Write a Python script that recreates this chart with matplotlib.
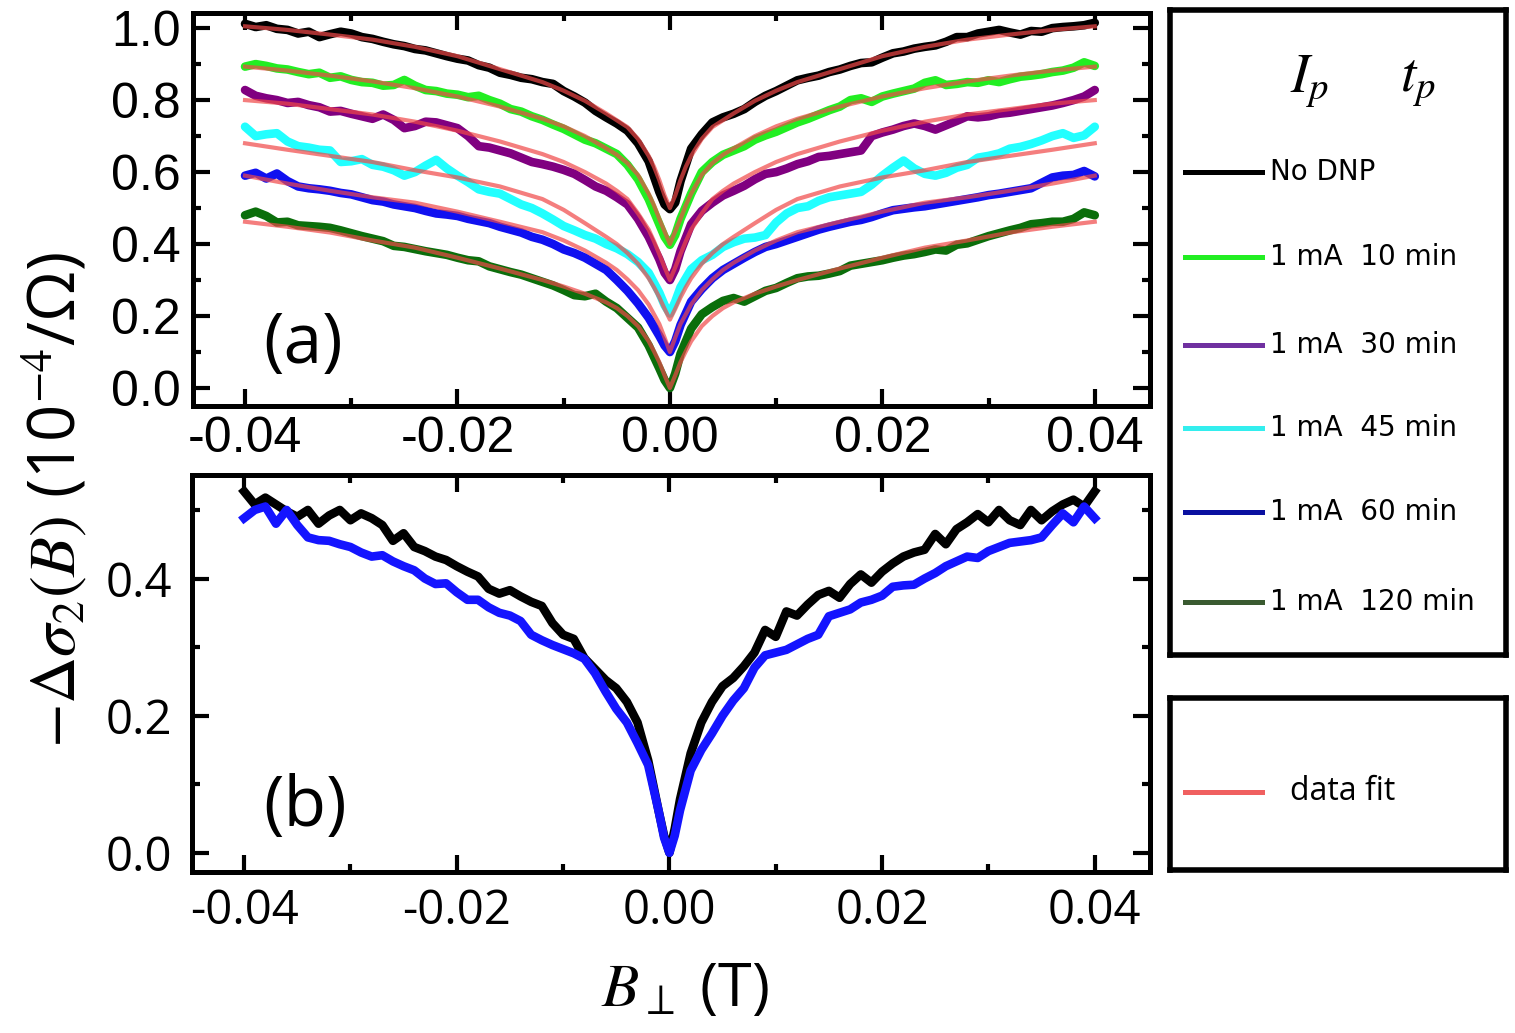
import matplotlib
matplotlib.use("Agg")
import matplotlib.pyplot as plt
from matplotlib.lines import Line2D
from matplotlib.ticker import MultipleLocator, FixedLocator

plt.rcParams['mathtext.fontset'] = 'stix'

# ---------------- data (B in tesla) ----------------
B = [-0.040, -0.039, -0.038, -0.037, -0.036, -0.035, -0.034, -0.033, -0.032, -0.031,
     -0.030, -0.029, -0.028, -0.027, -0.026, -0.025, -0.024, -0.023, -0.022, -0.021,
     -0.020, -0.019, -0.018, -0.017, -0.016, -0.015, -0.014, -0.013, -0.012, -0.011,
     -0.010, -0.009, -0.008, -0.007, -0.006, -0.005, -0.004, -0.003, -0.002, -0.001,
     -0.0005, 0.0, 0.0005,
     0.001, 0.002, 0.003, 0.004, 0.005, 0.006, 0.007, 0.008, 0.009, 0.010,
     0.011, 0.012, 0.013, 0.014, 0.015, 0.016, 0.017, 0.018, 0.019, 0.020,
     0.021, 0.022, 0.023, 0.024, 0.025, 0.026, 0.027, 0.028, 0.029, 0.030,
     0.031, 0.032, 0.033, 0.034, 0.035, 0.036, 0.037, 0.038, 0.039, 0.040]

a_nodnp = [1.012, 1.003, 1.008, 0.998, 0.995, 0.985, 0.990, 0.975, 0.983, 0.990,
           0.985, 0.975, 0.970, 0.962, 0.955, 0.950, 0.942, 0.938, 0.930, 0.922,
           0.915, 0.910, 0.897, 0.890, 0.876, 0.870, 0.862, 0.858, 0.850, 0.845,
           0.825, 0.810, 0.793, 0.770, 0.752, 0.735, 0.715, 0.680, 0.630, 0.545,
           0.510, 0.497, 0.515,
           0.575, 0.665, 0.705, 0.738, 0.752, 0.762, 0.775, 0.795, 0.812, 0.825,
           0.840, 0.855, 0.862, 0.868, 0.878, 0.885, 0.895, 0.903, 0.905, 0.918,
           0.930, 0.935, 0.943, 0.948, 0.952, 0.962, 0.975, 0.975, 0.985, 0.990,
           0.995, 0.988, 0.982, 0.992, 0.990, 1.000, 1.003, 1.005, 1.008, 1.015]

a_10min = [0.893, 0.900, 0.895, 0.888, 0.885, 0.878, 0.872, 0.876, 0.862, 0.866,
           0.856, 0.850, 0.848, 0.840, 0.842, 0.856, 0.840, 0.828, 0.825, 0.818,
           0.815, 0.808, 0.812, 0.800, 0.790, 0.775, 0.768, 0.755, 0.745, 0.732,
           0.720, 0.705, 0.690, 0.680, 0.665, 0.650, 0.620, 0.580, 0.525, 0.455,
           0.420, 0.398, 0.425,
           0.470, 0.540, 0.600, 0.628, 0.648, 0.660, 0.672, 0.690, 0.702, 0.712,
           0.725, 0.738, 0.748, 0.760, 0.772, 0.782, 0.800, 0.805, 0.795, 0.810,
           0.818, 0.825, 0.832, 0.848, 0.855, 0.842, 0.845, 0.850, 0.848, 0.855,
           0.850, 0.858, 0.865, 0.868, 0.872, 0.878, 0.882, 0.890, 0.905, 0.895]

a_30min = [0.828, 0.812, 0.805, 0.800, 0.792, 0.795, 0.786, 0.780, 0.768, 0.770,
           0.762, 0.755, 0.748, 0.760, 0.745, 0.722, 0.728, 0.740, 0.738, 0.730,
           0.722, 0.700, 0.672, 0.668, 0.660, 0.652, 0.640, 0.628, 0.622, 0.615,
           0.606, 0.595, 0.578, 0.560, 0.548, 0.530, 0.510, 0.470, 0.420, 0.358,
           0.320, 0.300, 0.330,
           0.380, 0.455, 0.492, 0.515, 0.535, 0.548, 0.562, 0.580, 0.595, 0.600,
           0.610, 0.622, 0.630, 0.642, 0.645, 0.650, 0.655, 0.660, 0.700, 0.710,
           0.718, 0.728, 0.735, 0.728, 0.718, 0.730, 0.742, 0.755, 0.752, 0.755,
           0.762, 0.765, 0.770, 0.775, 0.780, 0.785, 0.792, 0.800, 0.810, 0.828]

a_45min = [0.726, 0.700, 0.705, 0.708, 0.685, 0.672, 0.668, 0.662, 0.660, 0.628,
           0.630, 0.636, 0.620, 0.615, 0.605, 0.590, 0.600, 0.618, 0.634, 0.610,
           0.590, 0.572, 0.552, 0.545, 0.540, 0.525, 0.510, 0.500, 0.485, 0.468,
           0.450, 0.438, 0.425, 0.415, 0.400, 0.388, 0.372, 0.350, 0.320, 0.265,
           0.230, 0.207, 0.240,
           0.280, 0.330, 0.355, 0.370, 0.392, 0.405, 0.415, 0.418, 0.425, 0.460,
           0.485, 0.500, 0.505, 0.520, 0.530, 0.535, 0.540, 0.545, 0.565, 0.590,
           0.612, 0.632, 0.610, 0.595, 0.590, 0.598, 0.612, 0.620, 0.640, 0.645,
           0.652, 0.665, 0.670, 0.678, 0.688, 0.700, 0.708, 0.695, 0.702, 0.726]

a_60min = [0.590, 0.598, 0.582, 0.596, 0.575, 0.560, 0.555, 0.552, 0.548, 0.542,
           0.538, 0.530, 0.522, 0.518, 0.510, 0.505, 0.500, 0.492, 0.485, 0.482,
           0.478, 0.470, 0.464, 0.458, 0.448, 0.440, 0.432, 0.420, 0.412, 0.400,
           0.385, 0.375, 0.362, 0.345, 0.328, 0.300, 0.270, 0.235, 0.195, 0.145,
           0.118, 0.100, 0.130,
           0.175, 0.240, 0.275, 0.305, 0.328, 0.345, 0.362, 0.378, 0.392, 0.400,
           0.410, 0.420, 0.430, 0.440, 0.448, 0.455, 0.462, 0.467, 0.475, 0.485,
           0.494, 0.498, 0.502, 0.505, 0.510, 0.515, 0.520, 0.525, 0.530, 0.536,
           0.540, 0.545, 0.550, 0.555, 0.570, 0.585, 0.590, 0.592, 0.603, 0.588]

a_120min = [0.480, 0.490, 0.478, 0.460, 0.462, 0.452, 0.450, 0.448, 0.445, 0.438,
            0.430, 0.422, 0.415, 0.408, 0.395, 0.392, 0.386, 0.380, 0.375, 0.370,
            0.362, 0.355, 0.352, 0.338, 0.330, 0.322, 0.315, 0.305, 0.295, 0.285,
            0.272, 0.258, 0.255, 0.262, 0.240, 0.222, 0.195, 0.168, 0.118, 0.055,
            0.022, 0.000, 0.040,
            0.095, 0.165, 0.205, 0.225, 0.242, 0.250, 0.240, 0.255, 0.270, 0.278,
            0.292, 0.305, 0.310, 0.312, 0.318, 0.325, 0.340, 0.345, 0.350, 0.355,
            0.362, 0.368, 0.372, 0.378, 0.385, 0.382, 0.398, 0.402, 0.412, 0.422,
            0.430, 0.438, 0.445, 0.455, 0.458, 0.462, 0.462, 0.470, 0.488, 0.480]

# fits (panel a)
B_fit = [-0.040, -0.036, -0.032, -0.028, -0.024, -0.020, -0.016, -0.012, -0.010, -0.008,
         -0.006, -0.005, -0.004, -0.003, -0.002, -0.0015, -0.001, -0.0005, 0.0,
         0.0005, 0.001, 0.0015, 0.002, 0.003, 0.004, 0.005, 0.006, 0.008, 0.010,
         0.012, 0.016, 0.020, 0.024, 0.028, 0.032, 0.036, 0.040]

fit_nodnp = [1.005, 0.995, 0.982, 0.968, 0.948, 0.922, 0.886, 0.850, 0.826, 0.798,
             0.763, 0.744, 0.725, 0.692, 0.645, 0.615, 0.578, 0.535, 0.500,
             0.535, 0.578, 0.615, 0.645, 0.692, 0.725, 0.744, 0.763, 0.798, 0.826,
             0.850, 0.886, 0.922, 0.948, 0.968, 0.982, 0.995, 1.005]
fit_10min = [0.893, 0.882, 0.868, 0.852, 0.833, 0.810, 0.782, 0.748, 0.727, 0.700,
             0.666, 0.648, 0.625, 0.592, 0.540, 0.508, 0.470, 0.435, 0.400,
             0.435, 0.470, 0.508, 0.540, 0.592, 0.625, 0.648, 0.666, 0.700, 0.727,
             0.748, 0.782, 0.810, 0.833, 0.852, 0.868, 0.882, 0.893]
fit_30min = [0.800, 0.790, 0.775, 0.760, 0.740, 0.715, 0.685, 0.650, 0.628, 0.600,
             0.568, 0.548, 0.525, 0.485, 0.440, 0.408, 0.372, 0.335, 0.300,
             0.335, 0.372, 0.408, 0.440, 0.485, 0.525, 0.548, 0.568, 0.600, 0.628,
             0.650, 0.685, 0.715, 0.740, 0.760, 0.775, 0.790, 0.800]
fit_45min = [0.680, 0.662, 0.645, 0.628, 0.605, 0.585, 0.560, 0.525, 0.495, 0.458,
             0.420, 0.400, 0.375, 0.345, 0.305, 0.280, 0.252, 0.220, 0.190,
             0.220, 0.252, 0.280, 0.305, 0.345, 0.375, 0.400, 0.420, 0.458, 0.495,
             0.525, 0.560, 0.585, 0.605, 0.628, 0.645, 0.662, 0.680]
fit_60min = [0.590, 0.568, 0.548, 0.530, 0.515, 0.490, 0.462, 0.433, 0.410, 0.382,
             0.348, 0.328, 0.302, 0.272, 0.232, 0.205, 0.178, 0.140, 0.100,
             0.140, 0.178, 0.205, 0.232, 0.272, 0.302, 0.328, 0.348, 0.382, 0.410,
             0.433, 0.462, 0.490, 0.515, 0.530, 0.548, 0.568, 0.590]
fit_120min = [0.462, 0.448, 0.432, 0.410, 0.390, 0.362, 0.332, 0.300, 0.282, 0.262,
              0.238, 0.222, 0.200, 0.172, 0.130, 0.102, 0.072, 0.035, 0.000,
              0.035, 0.072, 0.102, 0.130, 0.172, 0.200, 0.222, 0.238, 0.262, 0.282,
              0.300, 0.332, 0.362, 0.390, 0.410, 0.432, 0.448, 0.462]

# panel b
b_nodnp = [0.527, 0.508, 0.518, 0.508, 0.498, 0.490, 0.500, 0.480, 0.492, 0.500,
           0.485, 0.495, 0.488, 0.478, 0.455, 0.466, 0.446, 0.440, 0.432, 0.427,
           0.418, 0.410, 0.403, 0.385, 0.378, 0.383, 0.374, 0.366, 0.360, 0.335,
           0.318, 0.312, 0.284, 0.268, 0.252, 0.240, 0.220, 0.190, 0.135, 0.060,
           0.025, 0.000, 0.035,
           0.078, 0.145, 0.190, 0.220, 0.243, 0.255, 0.272, 0.292, 0.325, 0.315,
           0.352, 0.346, 0.362, 0.376, 0.382, 0.372, 0.392, 0.406, 0.394, 0.410,
           0.422, 0.432, 0.438, 0.442, 0.465, 0.450, 0.472, 0.482, 0.494, 0.482,
           0.500, 0.485, 0.478, 0.500, 0.485, 0.498, 0.508, 0.515, 0.505, 0.527]
b_60min = [0.488, 0.500, 0.505, 0.480, 0.500, 0.478, 0.460, 0.456, 0.455, 0.450,
           0.446, 0.438, 0.432, 0.434, 0.425, 0.418, 0.412, 0.400, 0.392, 0.393,
           0.380, 0.369, 0.369, 0.358, 0.350, 0.346, 0.338, 0.318, 0.310, 0.303,
           0.297, 0.291, 0.283, 0.262, 0.235, 0.210, 0.190, 0.160, 0.128, 0.060,
           0.022, 0.000, 0.025,
           0.062, 0.120, 0.150, 0.174, 0.200, 0.222, 0.240, 0.270, 0.288, 0.292,
           0.296, 0.304, 0.312, 0.318, 0.345, 0.350, 0.355, 0.365, 0.369, 0.375,
           0.388, 0.390, 0.391, 0.400, 0.408, 0.418, 0.425, 0.432, 0.430, 0.440,
           0.446, 0.452, 0.454, 0.456, 0.460, 0.478, 0.495, 0.482, 0.505, 0.488]

legend_labels = ["No DNP", "1 mA  10 min", "1 mA  30 min", "1 mA  45 min",
                 "1 mA  60 min", "1 mA  120 min"]

for arr in (a_nodnp, a_10min, a_30min, a_45min, a_60min, a_120min, b_nodnp, b_60min):
    assert len(arr) == len(B), len(arr)
for arr in (fit_nodnp, fit_10min, fit_30min, fit_45min, fit_60min, fit_120min):
    assert len(arr) == len(B_fit), len(arr)

# ---------------- styles ----------------
plot_colors = ['#000000', '#22ee22', '#800080', '#22ffff', '#1010f0', '#0b6e0b']
legend_colors = ['#000000', '#22ee22', '#7030a0', '#33eeee', '#0a10a0', '#3a5a30']
fit_color = '#f04848'
DATA_LW = 6.2
FIT_LW = 3.0

W, H = 1515, 1033
fig = plt.figure(figsize=(W / 100, H / 100), dpi=100)

def frac(x0, y0, x1, y1):
    return [x0 / W, 1 - y1 / H, (x1 - x0) / W, (y1 - y0) / H]

axa = fig.add_axes(frac(193, 13, 1150, 406))
axb = fig.add_axes(frac(192, 475, 1150, 872))

series_a = [a_nodnp, a_10min, a_30min, a_45min, a_60min, a_120min]
fits_a = [fit_nodnp, fit_10min, fit_30min, fit_45min, fit_60min, fit_120min]
for ys, c in zip(series_a, plot_colors):
    axa.plot(B, ys, color=c, lw=DATA_LW, solid_capstyle='round',
             solid_joinstyle='round', zorder=2)
for ys in fits_a:
    axa.plot(B_fit, ys, color=fit_color, lw=FIT_LW, alpha=0.7,
             solid_joinstyle='round', zorder=3)

axb.plot(B, b_nodnp, color='#000000', lw=DATA_LW, solid_joinstyle='round', zorder=2)
axb.plot(B, b_60min, color='#1414ff', lw=DATA_LW, solid_joinstyle='round', zorder=3)

for ax, ylim in ((axa, (-0.05, 1.042)), (axb, (-0.028, 0.551))):
    ax.set_xlim(-0.0449, 0.0452)
    ax.set_ylim(*ylim)
    ax.xaxis.set_major_locator(FixedLocator([-0.04, -0.02, 0.0, 0.02, 0.04]))
    ax.xaxis.set_minor_locator(FixedLocator([-0.03, -0.01, 0.01, 0.03]))
    ax.yaxis.set_major_locator(MultipleLocator(0.2))
    ax.yaxis.set_minor_locator(MultipleLocator(0.1))
    ax.tick_params(which='both', direction='in', top=True, right=True, width=3.0)
    ax.tick_params(which='major', length=12)
    ax.tick_params(which='minor', length=6)
    for s in ax.spines.values():
        s.set_linewidth(3.6)

axa.set_xticklabels(['-0.04', '-0.02', '0.00', '0.02', '0.04'])
axa.set_yticks([0.0, 0.2, 0.4, 0.6, 0.8, 1.0])
axa.set_yticklabels(['0.0', '0.2', '0.4', '0.6', '0.8', '1.0'])
axa.tick_params(axis='y', which='major', pad=9)
axa.tick_params(axis='x', which='major', pad=7)
for lab in axa.get_xticklabels() + axa.get_yticklabels():
    lab.set_fontfamily('Liberation Sans')
    lab.set_fontsize(36)

axb.set_xticklabels(['-0.04', '-0.02', '0.00', '0.02', '0.04'])
axb.set_yticks([0.0, 0.2, 0.4])
axb.set_yticklabels(['0.0', '0.2', '0.4'])
axb.tick_params(axis='y', which='major', pad=14)
axb.tick_params(axis='x', which='major', pad=11)
for lab in axb.get_xticklabels() + axb.get_yticklabels():
    lab.set_fontfamily('Open Sans')
    lab.set_fontsize(34)

fig.text(303 / W, 1 - 345 / H, '(a)', fontsize=50, family='Open Sans',
         ha='center', va='center')
fig.text(305 / W, 1 - 808 / H, '(b)', fontsize=50, family='Open Sans',
         ha='center', va='center')

fig.text(57 / W, 1 - 500 / H, r'$-\Delta\sigma_2(B)$ (10$^{-4}$/Ω)', rotation=90,
         ha='center', va='center', fontsize=47, family='Open Sans')
fig.text(685 / W, 1 - 990 / H, r'$B_{\perp}$ (T)', ha='center', va='center',
         fontsize=44, family='Open Sans')

# ---------------- legend boxes ----------------
legA = fig.add_axes(frac(1170, 10, 1506, 655))
legA.set_xlim(1170, 1506)
legA.set_ylim(655, 10)
legA.set_xticks([])
legA.set_yticks([])
for s in legA.spines.values():
    s.set_linewidth(4)
legA.text(1310, 82, r'$I_p$', fontsize=40, ha='center', va='center')
legA.text(1418, 82, r'$t_p$', fontsize=40, ha='center', va='center')
rows = [172, 257, 345, 428, 512, 602]
for yrow, lab, c in zip(rows, legend_labels, legend_colors):
    legA.add_line(Line2D([1185, 1262], [yrow, yrow], color=c, lw=3.6))
    legA.text(1270, yrow, lab, fontsize=20, family='DejaVu Sans',
              ha='left', va='center')

legB = fig.add_axes(frac(1170, 698, 1506, 870))
legB.set_xlim(1170, 1506)
legB.set_ylim(870, 698)
legB.set_xticks([])
legB.set_yticks([])
for s in legB.spines.values():
    s.set_linewidth(4)
legB.add_line(Line2D([1185, 1262], [792, 792], color='#f06060', lw=3.6))
legB.text(1290, 792, 'data fit', fontsize=23, family='Open Sans',
          ha='left', va='center')

fig.savefig('out.png', dpi=100)
